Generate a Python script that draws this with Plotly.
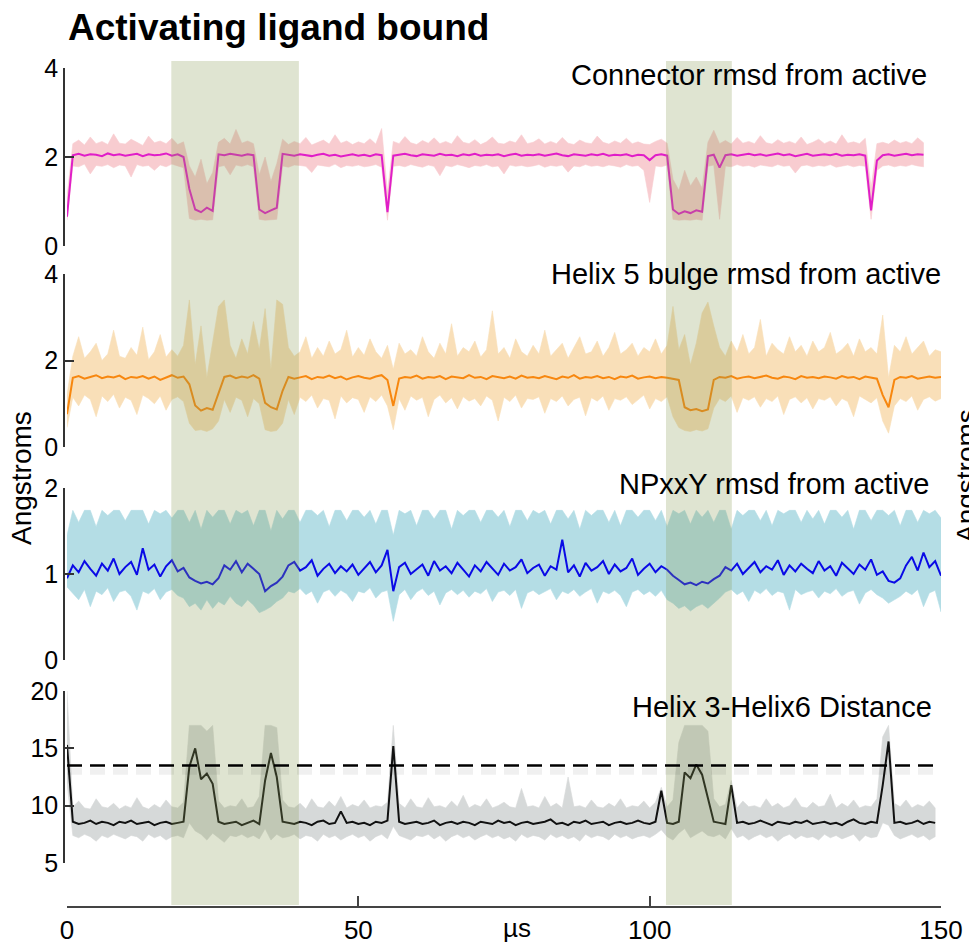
import plotly.graph_objects as go

# ---------------- data ----------------
TIME_US = list(range(0, 151))  # sample times, microseconds

CONNECTOR_MEAN = [
    0.66, 2.04, 2.07, 2.03, 2.06, 2.05, 2.02, 2.08, 2.04, 2.06,
    2.03, 2.05, 2.07, 2.02, 2.06, 2.04, 2.05, 2.08, 2.03, 2.06,
    2.00, 1.28, 0.82, 0.76, 0.86, 0.79, 2.06, 2.04, 2.07, 2.05,
    2.03, 2.06, 2.04, 0.82, 0.74, 0.80, 0.86, 2.07, 2.05, 2.03,
    2.06, 2.04, 2.02, 2.05, 2.07, 2.03, 2.05, 2.01, 2.04, 2.06,
    2.03, 2.05, 2.02, 2.06, 2.04, 0.76, 2.03, 2.05, 2.07, 2.04,
    2.02, 2.06, 2.05, 2.03, 2.07, 2.04, 2.05, 2.02, 2.06, 2.04,
    2.07, 2.03, 2.05, 2.04, 2.06, 2.02, 2.05, 2.07, 2.03, 2.05,
    2.04, 2.06, 2.03, 2.05, 2.08, 2.04, 2.02, 2.06, 2.05, 2.03,
    2.06, 2.04, 2.07, 2.03, 2.05, 2.04, 2.06, 2.02, 2.05, 2.04,
    1.93, 2.04, 2.06, 2.03, 0.82, 0.72, 0.78, 0.74, 0.80, 0.77,
    2.02, 2.05, 1.76, 2.04, 2.06, 2.03, 2.05, 2.07, 2.04, 2.06,
    2.03, 2.05, 2.08, 2.04, 2.06, 2.02, 2.05, 2.07, 2.03, 2.05,
    2.06, 2.04, 2.07, 2.03, 2.05, 2.04, 2.06, 2.03, 0.80, 1.92,
    2.04, 2.06, 2.03, 2.05, 2.07, 2.04, 2.06, 2.05,
]
CONNECTOR_HIGH = [
    1.10, 2.30, 2.38, 2.27, 2.45, 2.30, 2.35, 2.28, 2.52, 2.31,
    2.29, 2.40, 2.33, 2.26, 2.47, 2.32, 2.36, 2.30, 2.42, 2.28,
    2.34, 1.80, 1.55, 1.95, 1.40, 1.65, 2.33, 2.42, 2.29, 2.62,
    2.31, 2.36, 2.30, 1.60, 2.00, 1.45, 1.85, 2.40, 2.28, 2.35,
    2.30, 2.44, 2.27, 2.33, 2.38, 2.29, 2.50, 2.31, 2.36, 2.28,
    2.34, 2.30, 2.41, 2.29, 2.64, 1.20, 2.35, 2.30, 2.46, 2.32,
    2.28, 2.37, 2.31, 2.43, 2.30, 2.35, 2.29, 2.48, 2.33, 2.30,
    2.39, 2.28, 2.34, 2.45, 2.31, 2.29, 2.36, 2.32, 2.50, 2.30,
    2.33, 2.41, 2.29, 2.35, 2.30, 2.44, 2.31, 2.28, 2.38, 2.32,
    2.30, 2.47, 2.33, 2.29, 2.36, 2.31, 2.42, 2.30, 2.34, 2.29,
    2.28, 2.35, 2.40, 2.31, 1.50, 1.25, 1.70, 1.35, 1.55, 1.30,
    2.33, 2.60, 2.30, 2.37, 2.29, 2.44, 2.31, 2.35, 2.30, 2.48,
    2.32, 2.29, 2.39, 2.31, 2.35, 2.30, 2.45, 2.28, 2.33, 2.40,
    2.30, 2.36, 2.29, 2.50, 2.31, 2.34, 2.30, 2.42, 1.30, 2.30,
    2.33, 2.29, 2.38, 2.31, 2.35, 2.30, 2.43, 2.32,
]
CONNECTOR_LOW = [
    0.58, 1.80, 1.78, 1.84, 1.62, 1.81, 1.79, 1.83, 1.76, 1.82,
    1.80, 1.55, 1.83, 1.79, 1.81, 1.70, 1.82, 1.78, 1.84, 1.80,
    1.76, 0.62, 0.58, 0.60, 0.58, 0.59, 1.78, 1.81, 1.60, 1.82,
    1.79, 1.83, 1.78, 0.60, 0.58, 0.59, 0.60, 1.80, 1.77, 1.82,
    1.81, 1.79, 1.65, 1.82, 1.80, 1.78, 1.84, 1.76, 1.81, 1.79,
    1.82, 1.78, 1.80, 1.83, 1.77, 0.58, 1.79, 1.81, 1.78, 1.83,
    1.80, 1.77, 1.82, 1.79, 1.58, 1.81, 1.78, 1.83, 1.80, 1.76,
    1.81, 1.79, 1.83, 1.78, 1.80, 1.62, 1.82, 1.79, 1.81, 1.78,
    1.80, 1.83, 1.77, 1.81, 1.79, 1.82, 1.66, 1.80, 1.78, 1.83,
    1.79, 1.81, 1.78, 1.82, 1.80, 1.77, 1.83, 1.79, 1.81, 1.70,
    0.98, 1.80, 1.78, 1.82, 0.60, 0.58, 0.59, 0.58, 0.60, 0.58,
    1.79, 1.82, 0.60, 1.80, 1.78, 1.83, 1.79, 1.81, 1.77, 1.82,
    1.80, 1.78, 1.83, 1.79, 1.81, 1.64, 1.80, 1.82, 1.78, 1.81,
    1.79, 1.83, 1.77, 1.80, 1.82, 1.78, 1.81, 1.79, 0.60, 1.70,
    1.80, 1.82, 1.78, 1.81, 1.79, 1.83, 1.80, 1.78,
]

HELIX5_MEAN = [
    0.76, 1.60, 1.64, 1.58, 1.62, 1.66, 1.59, 1.63, 1.61, 1.65,
    1.57, 1.62, 1.60, 1.64, 1.58, 1.63, 1.55, 1.61, 1.66, 1.60,
    1.63, 1.45, 0.96, 0.84, 0.90, 0.86, 1.25, 1.62, 1.65, 1.59,
    1.63, 1.60, 1.66, 1.58, 1.02, 0.92, 0.87, 1.30, 1.62, 1.58,
    1.61, 1.64, 1.57, 1.62, 1.60, 1.65, 1.59, 1.63, 1.56, 1.61,
    1.64, 1.60, 1.58, 1.63, 1.66, 1.55, 0.95, 1.58, 1.62, 1.60,
    1.65, 1.58, 1.62, 1.60, 1.64, 1.57, 1.63, 1.61, 1.59, 1.66,
    1.60, 1.62, 1.57, 1.64, 1.61, 1.59, 1.63, 1.58, 1.65, 1.60,
    1.62, 1.59, 1.64, 1.61, 1.57, 1.63, 1.60, 1.66, 1.58, 1.62,
    1.60, 1.64, 1.59, 1.62, 1.57, 1.63, 1.61, 1.65, 1.58, 1.61,
    1.63, 1.59, 1.62, 1.60, 1.58, 1.55, 0.92, 0.85, 0.88, 0.83,
    0.87, 1.55, 1.62, 1.60, 1.64, 1.58, 1.61, 1.63, 1.59, 1.62,
    1.65, 1.60, 1.58, 1.63, 1.61, 1.57, 1.64, 1.60, 1.62, 1.59,
    1.63, 1.61, 1.58, 1.64, 1.60, 1.62, 1.57, 1.63, 1.60, 1.58,
    1.20, 0.92, 1.55, 1.62, 1.60, 1.64, 1.58, 1.61, 1.63, 1.60,
    1.62,
]
HELIX5_HIGH = [
    1.20, 2.10, 2.55, 2.05, 2.20, 2.40, 2.00, 2.15, 2.70, 2.10,
    2.05, 2.30, 2.12, 2.77, 2.02, 2.20, 2.60, 2.08, 2.25, 2.10,
    2.35, 3.40, 1.90, 2.80, 1.60, 2.40, 3.25, 3.40, 2.35, 2.05,
    2.50, 2.15, 2.90, 2.25, 3.20, 1.80, 3.40, 3.30, 2.30, 2.10,
    2.20, 2.55, 2.05, 2.30, 2.10, 2.45, 2.15, 2.25, 2.70, 2.08,
    2.30, 2.12, 2.50, 2.20, 2.05, 2.35, 1.80, 2.40, 2.15, 2.25,
    2.10, 2.55, 2.20, 2.05, 2.40, 2.15, 2.85, 2.10, 2.30, 2.20,
    2.45, 2.08, 2.25, 3.15, 2.15, 2.30, 2.05, 2.50, 2.20, 2.10,
    2.35, 2.15, 2.70, 2.10, 2.25, 2.40, 2.05, 2.30, 2.55, 2.15,
    2.20, 2.45, 2.10, 2.30, 2.65, 2.15, 2.25, 2.40, 2.10, 2.30,
    2.20, 2.50, 2.15, 2.35, 3.25, 2.25, 2.60, 1.90, 2.40, 3.10,
    3.35, 2.80, 2.30, 2.10, 2.45, 2.20, 2.60, 2.15, 2.30, 2.95,
    2.10, 2.40, 2.25, 2.15, 2.55, 2.20, 2.35, 2.10, 2.45, 2.20,
    2.30, 2.65, 2.15, 2.25, 2.40, 2.10, 2.50, 2.20, 2.30, 2.15,
    3.05, 1.60, 2.35, 2.20, 2.55, 2.15, 2.30, 2.45, 2.10, 2.25,
    2.20,
]
HELIX5_LOW = [
    0.45, 1.15, 0.95, 1.20, 1.10, 0.70, 1.18, 1.05, 1.22, 0.90,
    1.15, 1.08, 0.75, 1.20, 1.12, 1.00, 1.18, 0.85, 1.10, 1.16,
    1.05, 0.55, 0.38, 0.40, 0.36, 0.42, 0.60, 1.10, 0.80, 1.15,
    1.08, 0.70, 1.12, 1.00, 0.40, 0.36, 0.38, 0.55, 1.10, 0.75,
    1.15, 1.05, 1.20, 0.90, 1.12, 1.08, 0.65, 1.18, 1.02, 1.14,
    1.10, 0.80, 1.16, 1.05, 1.20, 0.95, 0.40, 1.12, 0.85, 1.18,
    1.08, 1.15, 0.70, 1.10, 1.20, 1.02, 1.14, 0.88, 1.16, 1.06,
    1.12, 0.95, 1.18, 1.08, 0.60, 1.15, 1.05, 1.20, 0.90, 1.12,
    1.10, 1.16, 0.78, 1.12, 1.05, 1.18, 0.95, 1.10, 1.15, 0.72,
    1.14, 1.06, 1.18, 0.85, 1.12, 1.08, 1.16, 0.98, 1.10, 1.20,
    0.88, 1.12, 1.05, 1.16, 0.70, 0.45, 0.38, 0.36, 0.40, 0.37,
    0.42, 0.90, 1.12, 1.05, 1.18, 0.80, 1.14, 1.08, 1.16, 0.92,
    1.12, 1.05, 1.18, 0.75, 1.10, 1.16, 1.02, 1.14, 0.88, 1.12,
    1.08, 1.16, 0.95, 1.12, 1.05, 0.70, 1.18, 1.10, 1.02, 1.14,
    0.60, 0.32, 0.95, 1.12, 1.05, 1.18, 0.85, 1.10, 1.16, 1.06,
    1.12,
]

NPXXY_MEAN = [
    0.95, 1.10, 1.02, 1.15, 1.06, 0.98, 1.12, 1.04, 1.18, 1.00,
    1.08, 1.14, 0.99, 1.30, 1.05, 1.11, 0.97, 1.09, 1.16, 1.03,
    1.07, 0.96, 0.92, 0.89, 0.91, 0.88, 0.95, 1.10, 1.05, 1.15,
    1.02, 1.12, 1.06, 1.00, 0.80, 0.86, 0.90, 0.97, 1.10, 1.14,
    1.04, 1.08, 1.16, 0.98, 1.06, 1.12, 1.01, 1.09, 1.03, 1.11,
    0.99, 1.07, 1.14, 1.02, 1.10, 1.28, 0.80, 1.08, 1.13, 1.00,
    1.06, 1.11, 0.98, 1.15, 1.04, 1.09, 1.01, 1.13, 1.05, 0.97,
    1.10, 1.03, 1.14, 1.06, 0.99, 1.12, 1.04, 1.08, 1.17, 1.01,
    1.07, 1.11, 0.98, 1.09, 1.05, 1.40, 1.02, 1.10, 0.97, 1.13,
    1.04, 1.08, 1.15, 1.00, 1.11, 1.03, 1.07, 1.18, 0.99, 1.06,
    1.12, 1.02, 1.09, 1.05, 0.98, 0.93, 0.88, 0.90, 0.87, 0.91,
    0.89, 0.94, 0.98, 1.08, 1.04, 1.12, 1.00, 1.07, 1.14, 1.02,
    1.09, 1.05, 1.16, 0.99, 1.10, 1.03, 1.12, 1.06, 1.01, 1.15,
    1.04, 1.09, 0.98, 1.13, 1.06, 1.00, 1.11, 1.05, 1.17, 0.99,
    1.03, 0.92, 0.90, 0.95, 1.10, 1.20, 1.04, 1.25, 1.08, 1.15,
    0.98,
]
NPXXY_HIGH = [
    1.45, 1.74, 1.60, 1.74, 1.74, 1.55, 1.74, 1.68, 1.74, 1.74,
    1.62, 1.74, 1.74, 1.74, 1.58, 1.74, 1.70, 1.74, 1.65, 1.74,
    1.74, 1.60, 1.74, 1.52, 1.74, 1.66, 1.74, 1.74, 1.58, 1.74,
    1.70, 1.74, 1.56, 1.74, 1.74, 1.50, 1.74, 1.64, 1.74, 1.74,
    1.60, 1.74, 1.74, 1.68, 1.74, 1.55, 1.74, 1.74, 1.62, 1.74,
    1.74, 1.66, 1.74, 1.58, 1.74, 1.74, 1.45, 1.74, 1.70, 1.74,
    1.56, 1.74, 1.74, 1.64, 1.74, 1.74, 1.52, 1.74, 1.68, 1.74,
    1.74, 1.60, 1.74, 1.74, 1.66, 1.74, 1.55, 1.74, 1.74, 1.62,
    1.74, 1.70, 1.74, 1.58, 1.74, 1.74, 1.64, 1.74, 1.52, 1.74,
    1.68, 1.74, 1.74, 1.60, 1.74, 1.56, 1.74, 1.74, 1.66, 1.74,
    1.74, 1.62, 1.74, 1.55, 1.74, 1.70, 1.74, 1.58, 1.74, 1.66,
    1.74, 1.60, 1.74, 1.74, 1.52, 1.74, 1.68, 1.74, 1.74, 1.62,
    1.74, 1.56, 1.74, 1.70, 1.74, 1.74, 1.60, 1.74, 1.64, 1.74,
    1.58, 1.74, 1.74, 1.66, 1.74, 1.52, 1.74, 1.74, 1.62, 1.74,
    1.74, 1.68, 1.74, 1.56, 1.74, 1.74, 1.60, 1.74, 1.70, 1.74,
    1.65,
]
NPXXY_LOW = [
    0.85, 0.78, 0.70, 0.82, 0.62, 0.80, 0.76, 0.84, 0.68, 0.79,
    0.81, 0.74, 0.58, 0.80, 0.77, 0.83, 0.70, 0.79, 0.82, 0.75,
    0.72, 0.62, 0.66, 0.58, 0.70, 0.60, 0.68, 0.64, 0.74, 0.66,
    0.62, 0.70, 0.64, 0.55, 0.58, 0.62, 0.68, 0.72, 0.80, 0.78,
    0.83, 0.76, 0.80, 0.66, 0.79, 0.82, 0.74, 0.81, 0.77, 0.68,
    0.80, 0.78, 0.84, 0.72, 0.79, 0.81, 0.45, 0.76, 0.82, 0.70,
    0.79, 0.83, 0.75, 0.80, 0.64, 0.78, 0.82, 0.76, 0.81, 0.73,
    0.80, 0.77, 0.83, 0.68, 0.79, 0.81, 0.75, 0.82, 0.60, 0.78,
    0.81, 0.76, 0.79, 0.83, 0.70, 0.80, 0.77, 0.82, 0.74, 0.79,
    0.83, 0.66, 0.80, 0.77, 0.81, 0.75, 0.62, 0.79, 0.82, 0.76,
    0.80, 0.74, 0.81, 0.70, 0.66, 0.60, 0.63, 0.57, 0.62, 0.65,
    0.60, 0.66, 0.72, 0.79, 0.82, 0.76, 0.80, 0.68, 0.81, 0.77,
    0.83, 0.75, 0.80, 0.78, 0.58, 0.82, 0.76, 0.79, 0.81, 0.72,
    0.80, 0.77, 0.83, 0.74, 0.79, 0.81, 0.65, 0.78, 0.82, 0.76,
    0.72, 0.66, 0.70, 0.74, 0.80, 0.76, 0.82, 0.62, 0.78, 0.81,
    0.56,
]

H3H6_MEAN = [
    15.3, 8.6, 8.4, 8.5, 8.7, 8.4, 8.6, 8.5, 8.3, 8.6,
    8.5, 8.7, 8.4, 8.5, 8.6, 8.3, 8.5, 8.6, 8.4, 8.5,
    8.6, 13.4, 15.0, 12.3, 12.8, 11.9, 8.6, 8.4, 8.5, 8.6,
    8.3, 8.5, 8.7, 8.4, 12.2, 14.6, 12.5, 8.6, 8.5, 8.4,
    8.6, 8.5, 8.3, 8.6, 8.7, 8.4, 8.5, 9.5, 8.5, 8.6,
    8.4, 8.5, 8.3, 8.6, 8.5, 8.7, 15.2, 8.6, 8.4, 8.5,
    8.6, 8.4, 8.5, 8.7, 8.3, 8.5, 8.6, 8.4, 8.6, 8.5,
    8.3, 8.6, 8.5, 8.4, 8.7, 8.5, 8.6, 8.3, 8.5, 8.6,
    8.4, 8.5, 8.6, 8.8, 8.4, 8.5, 8.3, 8.6, 8.5, 8.7,
    8.4, 8.5, 8.6, 8.3, 8.5, 8.6, 8.4, 8.5, 8.7, 8.5,
    8.4, 8.6, 11.3, 8.5, 8.4, 8.6, 12.9, 12.4, 13.6, 12.7,
    10.6, 8.6, 8.5, 8.4, 11.8, 8.5, 8.6, 8.4, 8.5, 8.7,
    8.5, 8.3, 8.6, 8.5, 8.4, 8.6, 8.5, 8.7, 8.4, 8.5,
    8.6, 8.4, 8.5, 8.3, 8.6, 8.8, 8.5, 8.4, 8.6, 8.5,
    11.8, 15.6, 8.5, 8.6, 8.4, 8.5, 8.7, 8.4, 8.6, 8.5,
]
H3H6_HIGH = [
    20.0, 9.9, 10.4, 9.8, 9.7, 10.6, 9.9, 9.8, 10.2, 9.7,
    10.0, 9.8, 10.7, 9.9, 9.7, 10.1, 9.8, 10.5, 9.9, 9.8,
    10.3, 17.0, 17.0, 17.0, 16.5, 17.0, 10.4, 9.8, 10.0, 9.9,
    10.6, 9.8, 9.9, 10.8, 17.0, 17.0, 16.8, 10.5, 9.9, 9.8,
    10.2, 9.7, 10.6, 9.9, 9.8, 10.4, 9.9, 10.8, 9.8, 10.1,
    9.9, 10.5, 9.8, 10.0, 9.9, 10.3, 17.0, 10.2, 9.8, 10.6,
    9.9, 9.8, 10.7, 9.9, 10.0, 9.8, 10.4, 9.9, 10.9, 9.8,
    10.1, 9.9, 10.6, 9.8, 10.0, 10.3, 9.9, 9.8, 11.5, 9.9,
    10.0, 9.8, 10.8, 9.9, 10.2, 9.8, 12.5, 9.9, 10.0, 9.8,
    10.5, 9.9, 9.8, 10.2, 9.9, 10.6, 9.8, 10.0, 9.9, 10.4,
    9.8, 10.3, 11.6, 9.9, 10.5, 15.5, 17.0, 17.0, 17.0, 17.0,
    16.5, 10.6, 9.9, 10.1, 12.2, 9.8, 10.4, 9.9, 10.0, 9.8,
    10.6, 9.9, 10.2, 9.8, 10.0, 10.7, 9.9, 9.8, 10.3, 9.9,
    10.0, 11.0, 9.8, 10.2, 9.9, 10.5, 9.8, 10.0, 9.9, 10.6,
    16.0, 17.0, 10.2, 9.9, 10.5, 9.8, 10.1, 9.9, 10.4, 9.8,
]
H3H6_LOW = [
    12.0, 7.4, 7.2, 7.5, 7.3, 6.9, 7.4, 7.2, 7.5, 7.3,
    7.1, 7.4, 7.3, 6.9, 7.5, 7.2, 7.4, 7.0, 7.3, 7.4,
    7.2, 8.5, 7.8, 7.5, 7.0, 7.6, 7.2, 6.8, 7.4, 7.3,
    7.5, 7.2, 7.4, 7.1, 8.0, 7.0, 7.5, 7.2, 7.3, 7.5,
    7.1, 7.4, 7.3, 6.9, 7.5, 7.2, 7.4, 7.0, 7.3, 7.5,
    7.2, 7.4, 6.9, 7.3, 7.5, 7.1, 8.2, 7.4, 7.2, 7.0,
    7.4, 7.3, 7.5, 7.1, 7.4, 6.9, 7.3, 7.5, 7.2, 7.4,
    7.0, 7.3, 7.5, 7.2, 7.4, 7.1, 7.3, 6.9, 7.5, 7.2,
    7.4, 7.3, 7.0, 7.5, 7.2, 7.4, 7.1, 7.3, 6.9, 7.5,
    7.2, 7.4, 7.3, 7.0, 7.5, 7.2, 7.4, 7.1, 7.3, 7.4,
    7.2, 7.5, 7.9, 7.3, 7.0, 7.6, 8.0, 7.2, 7.5, 7.8,
    7.4, 7.3, 7.5, 7.1, 8.0, 7.2, 7.4, 7.0, 7.3, 7.5,
    7.2, 7.4, 6.9, 7.3, 7.5, 7.1, 7.4, 7.2, 7.3, 7.0,
    7.5, 7.2, 7.4, 7.1, 7.3, 7.5, 6.9, 7.4, 7.2, 7.3,
    8.5, 8.3, 7.4, 7.1, 7.3, 7.5, 7.2, 7.4, 7.0, 7.3,
]

PANEL_TITLES = ["Connector rmsd from active", "Helix 5 bulge rmsd from active",
                "NPxxY rmsd from active", "Helix 3-Helix6 Distance"]
Y_TICKS = [[0, 2, 4], [0, 2, 4], [0, 1, 2], [5, 10, 15, 20]]
Y_RANGES = [[0, 4], [0, 4], [0, 2], [5, 20]]
X_TICKS = [0, 50, 100, 150]
ACTIVE_WINDOWS = [(17.9, 39.8), (102.8, 114.1)]
THRESHOLD = 13.5

# ---------------- layout helpers ----------------
W, H = 969, 951
def px(p):
    return p / W
def py(p):
    return 1 - p / H

FONT = "Liberation Sans, Arial, Helvetica, sans-serif"

panels = [
    (CONNECTOR_MEAN, CONNECTOR_HIGH, CONNECTOR_LOW, "#e01ec8", "#f8ccd0"),
    (HELIX5_MEAN, HELIX5_HIGH, HELIX5_LOW, "#f7870f", "#f9dfb8"),
    (NPXXY_MEAN, NPXXY_HIGH, NPXXY_LOW, "#0a0ae6", "#b4dde5"),
    (H3H6_MEAN, H3H6_HIGH, H3H6_LOW, "#111111", "#d6d9d9"),
]
# pixel extents of each panel's y axis (top value, bottom value)
panel_px = [(68, 246), (274, 447), (488, 660), (691, 863)]
title_px = [(929, 75), (943, 274), (931, 484), (934, 707)]

fig = go.Figure()
for i, (mean, hi, lo, c_mean, c_band) in enumerate(panels):
    n = "" if i == 0 else str(i + 1)
    t = TIME_US[:len(mean)]
    fig.add_trace(go.Scatter(
        x=t + t[::-1], y=hi + lo[::-1], fill="toself", fillcolor=c_band,
        line=dict(width=0.6, color=c_band), mode="lines",
        xaxis="x" + n, yaxis="y" + n, hoverinfo="skip", showlegend=False))
    fig.add_trace(go.Scatter(
        x=t, y=mean, mode="lines", line=dict(color=c_mean, width=2),
        xaxis="x" + n, yaxis="y" + n, hoverinfo="skip", showlegend=False))

layout = dict(
    width=W, height=H, autosize=False,
    margin=dict(l=0, r=0, t=0, b=0, pad=0, autoexpand=False),
    paper_bgcolor="white", plot_bgcolor="rgba(0,0,0,0)",
    font=dict(family=FONT, color="black"),
)
xdom = [px(67), px(941)]
for i in range(4):
    n = "" if i == 0 else str(i + 1)
    top, bot = panel_px[i]
    xa = dict(domain=xdom, range=[0, 150], showgrid=False, zeroline=False,
              anchor="y" + n, automargin=False)
    if i < 3:
        xa.update(visible=False)
    else:
        xa.update(anchor="free", position=py(907), showline=True,
                  linecolor="#444", linewidth=1.5, ticks="inside", ticklen=10,
                  tickwidth=1.5, tickcolor="#444", tickvals=X_TICKS,
                  tickfont=dict(size=26, family=FONT, color="black"))
    layout["xaxis" + n] = xa
    layout["yaxis" + n] = dict(
        domain=[py(bot), py(top)], range=Y_RANGES[i], anchor="free",
        position=px(64), showline=True, linecolor="#333", linewidth=1.5,
        ticks="inside", ticklen=9, tickwidth=1.5, tickcolor="#333",
        tickvals=Y_TICKS[i], showgrid=False, zeroline=False, automargin=False,
        tickfont=dict(size=25, family=FONT, color="black"))
fig.update_layout(**layout)

shapes = []
for x0, x1 in ACTIVE_WINDOWS:
    shapes.append(dict(type="rect", xref="x4", yref="paper", x0=x0, x1=x1,
                       y0=py(905), y1=py(61), fillcolor="rgba(138,155,86,0.27)",
                       line=dict(width=0), layer="above"))
shapes.append(dict(type="line", xref="x4", yref="y4", x0=0, x1=150,
                   y0=THRESHOLD - 0.5, y1=THRESHOLD - 0.5,
                   line=dict(color="rgba(0,0,0,0.06)", width=7, dash="15px,8px"),
                   layer="above"))
shapes.append(dict(type="line", xref="x4", yref="y4", x0=0, x1=150,
                   y0=THRESHOLD, y1=THRESHOLD,
                   line=dict(color="black", width=2.5, dash="15px,8px"),
                   layer="above"))
fig.update_layout(shapes=shapes)

ann = [
    dict(text="<b>Activating ligand bound</b>", x=px(66), y=py(27),
         xanchor="left", yanchor="middle", font=dict(size=37)),
    dict(text="Angstroms", x=px(21), y=py(478), textangle=-90,
         xanchor="center", yanchor="middle", font=dict(size=28)),
    dict(text="Angstroms", x=px(966), y=py(476), textangle=-90,
         xanchor="center", yanchor="middle", font=dict(size=28)),
    dict(text="µs", x=px(517), y=py(928), xanchor="center", yanchor="middle",
         font=dict(size=26)),
]
for (tx, ty), txt in zip(title_px, PANEL_TITLES):
    ann.append(dict(text=txt, x=px(tx), y=py(ty), xanchor="right",
                    yanchor="middle", font=dict(size=29)))
for a in ann:
    a.update(xref="paper", yref="paper", showarrow=False)
    a["font"].update(family=FONT, color="black")
fig.update_layout(annotations=ann)

fig.write_html("out.html")
